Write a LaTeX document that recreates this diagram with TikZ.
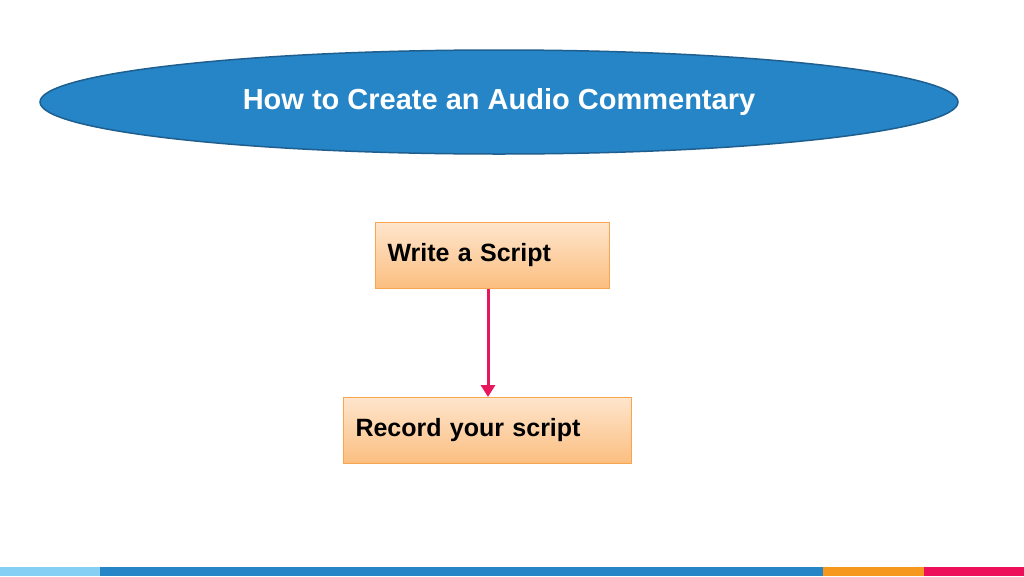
\documentclass[tikz,border=0pt]{standalone}
\usepackage{fontspec}
\setmainfont{Liberation Sans}
\usetikzlibrary{shapes.geometric,arrows.meta}
\definecolor{ellfill}{HTML}{2585C7}
\definecolor{elldraw}{HTML}{1F5F8F}
\definecolor{boxtop}{HTML}{FEE5CC}
\definecolor{boxbot}{HTML}{FBBE80}
\definecolor{boxdraw}{HTML}{F7A54F}
\definecolor{arrowc}{HTML}{E8175D}
\definecolor{barlight}{HTML}{85CFF5}
\definecolor{barorange}{HTML}{F7981E}
\definecolor{barred}{HTML}{ED0F5A}
\tikzset{
  stepbox/.style={rectangle,draw=boxdraw,line width=1pt,top color=boxtop,bottom color=boxbot,
    minimum height=66pt,anchor=north west,font=\bfseries\fontsize{25}{30}\selectfont,align=left,inner xsep=12pt},
}
\begin{document}
\begin{tikzpicture}[x=1pt,y=-1pt]
\useasboundingbox (0,0) rectangle (1024,576);
\fill[white] (0,0) rectangle (1024,576);
\node[ellipse,fill=ellfill,draw=elldraw,line width=1.5pt,minimum width=918pt,minimum height=104pt] (title) at (499,102) {};
\node[text=white,font=\bfseries\fontsize{29}{34}\selectfont] (tt) at (499,102) {How to Create an Audio Commentary};
\node[stepbox,minimum width=234pt,text width=210pt] (a) at (375,222) {Write a Script};
\node[stepbox,minimum width=288pt,text width=264pt] (b) at (343,397) {Record your script};
\draw[arrowc,line width=3pt,-{Triangle[length=12pt,width=14pt]}] (a.south -| 488,0) -- (b.north -| 488,0);
\fill[barlight] (0,567) rectangle (100,576);
\fill[ellfill] (100,567) rectangle (823,576);
\fill[barorange] (823,567) rectangle (924,576);
\fill[barred] (924,567) rectangle (1024,576);
\end{tikzpicture}
\end{document}
